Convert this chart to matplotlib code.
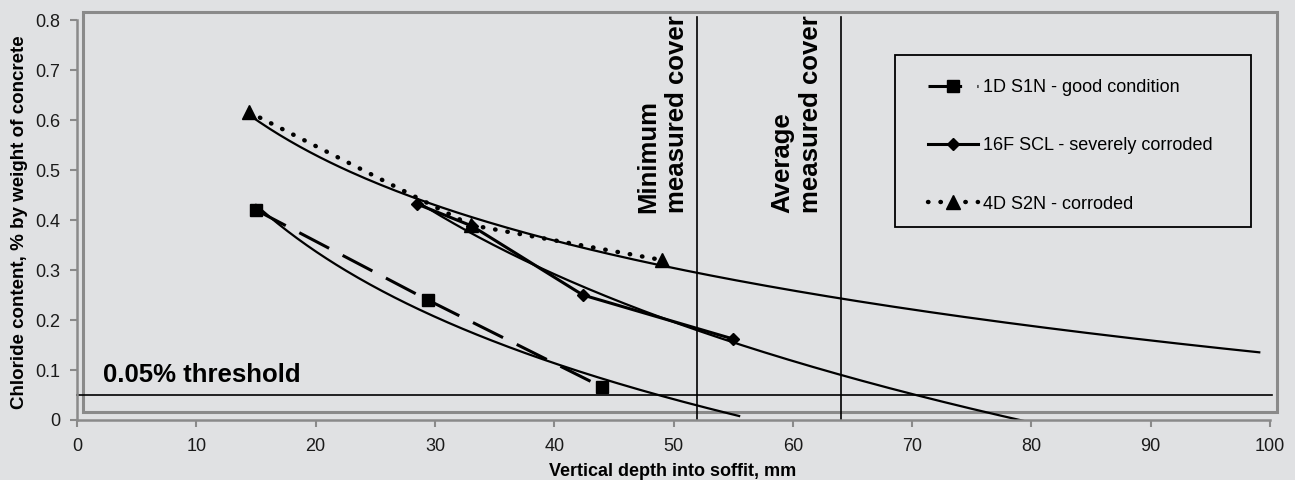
import numpy as np
import matplotlib.pyplot as plt
from matplotlib.patches import Rectangle

plt.rcParams['font.family'] = ['Liberation Sans', 'DejaVu Sans']

# 1D S1N - good condition
depth_1d = [15.0, 29.4, 44.0]
cl_1d = [0.42, 0.24, 0.066]
# 16F SCL - severely corroded
depth_16f = [28.5, 33.1, 42.4, 55.0]
cl_16f = [0.432, 0.388, 0.25, 0.162]
# 4D S2N - corroded
depth_4d = [14.4, 33.0, 49.0]
cl_4d = [0.616, 0.39, 0.32]

labels = ['1D S1N - good condition', '16F SCL - severely corroded', '4D S2N - corroded']
trend_end = [55.5, 79.3, 99.1]   # how far the log trendlines are forecast

min_cover = 52
avg_cover = 64
threshold = 0.05

bg = '#e0e1e3'
grey = '#8a8a8a'

fig = plt.figure(figsize=(12.95, 4.8), dpi=100, facecolor=bg)
ax = fig.add_axes([0.0595, 0.125, 0.9212, 0.8333])
ax.set_facecolor(bg)

series = [
    (depth_1d, cl_1d, dict(marker='s', ms=8, linestyle=(0, (11, 5)), lw=2.2)),
    (depth_16f, cl_16f, dict(marker='D', ms=6, linestyle='-', lw=2.2)),
    (depth_4d, cl_4d, dict(marker='^', ms=10, linestyle=(0, (0.1, 2.7)), lw=3.2,
                           dash_capstyle='round')),
]

for (x, y, st), lab, end in zip(series, labels, trend_end):
    ax.plot(x, y, color='black', label=lab, zorder=3, **st)
    # logarithmic trendline (excel style)
    coef = np.polyfit(np.log(x), y, 1)
    xs = np.linspace(x[0], end, 200)
    ax.plot(xs, np.polyval(coef, np.log(xs)), color='black', lw=1.6, zorder=2)

# threshold + cover lines
ax.plot([0, 100.2], [threshold, threshold], color='black', lw=1.2, clip_on=False)
ax.text(2.2, 0.076, '0.05% threshold', fontsize=18.5, fontweight='bold')
for xc in (min_cover, avg_cover):
    ax.plot([xc, xc], [0, 0.806], color='black', lw=1.2, clip_on=False)
ax.text(51.3, 0.414, 'Minimum\nmeasured cover', rotation=90, fontsize=18.5,
        fontweight='bold', ha='right', va='bottom', multialignment='left',
        linespacing=1.25)
ax.text(62.5, 0.414, 'Average\nmeasured cover', rotation=90, fontsize=18.5,
        fontweight='bold', ha='right', va='bottom', multialignment='left',
        linespacing=1.25)

# plot area border
ax.add_patch(Rectangle((0.005, 0.02), 1.0009, 1.0, transform=ax.transAxes,
                       fill=False, edgecolor=grey, lw=2.2, clip_on=False, zorder=0))

ax.set_xlim(0, 100)
ax.set_ylim(0, 0.8)
ax.set_xticks(np.arange(0, 101, 10))
ax.set_yticks(np.arange(0, 0.81, 0.1))
ax.set_yticklabels(['0', '0.1', '0.2', '0.3', '0.4', '0.5', '0.6', '0.7', '0.8'])
for s in ('top', 'right'):
    ax.spines[s].set_visible(False)
for s in ('left', 'bottom'):
    ax.spines[s].set_color(grey)
    ax.spines[s].set_linewidth(1.8)
ax.tick_params(colors=grey, labelcolor='#1a1a1a', labelsize=13, width=1.5, length=5)
ax.tick_params(axis='x', pad=8)
ax.tick_params(axis='y', pad=7)

fig.text(673 / 1295, 1 - 471 / 480, 'Vertical depth into soffit, mm', fontsize=13,
         fontweight='bold', ha='center', va='center')
fig.text(20 / 1295, 1 - 222 / 480, 'Chloride content, % by weight of concrete',
         fontsize=13.5, fontweight='bold', rotation=90, ha='center', va='center')

# legend: frame drawn separately so the entries can sit where they do in excel
ax.add_patch(Rectangle((0.6857, 0.4825), 0.2984, 0.43, transform=ax.transAxes,
                       fill=False, edgecolor='black', lw=1.3, zorder=4))
leg = ax.legend(loc='upper left', bbox_to_anchor=(0.7133, 0.852),
                fontsize=13, frameon=False, numpoints=1,
                handlelength=2.77, handletextpad=0.28, labelspacing=2.28,
                borderpad=0, borderaxespad=0)

fig.savefig('out.png', dpi=100, facecolor=bg)
